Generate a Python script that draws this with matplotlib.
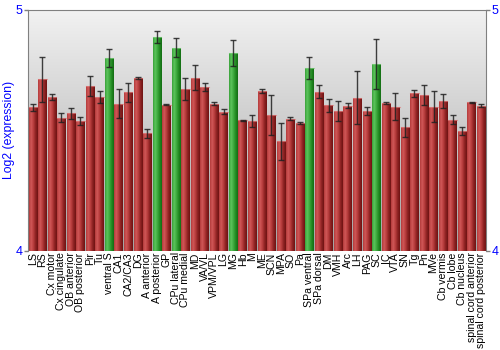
import numpy as np
import matplotlib
matplotlib.use("Agg")
import matplotlib.pyplot as plt
from matplotlib.colors import LinearSegmentedColormap

regions = ["LS", "RS", "Cx motor", "Cx cingulate", "OB anterior", "OB posterior",
           "Pir", "Tu", "ventral S", "CA1", "CA2/CA3", "DG", "A anterior",
           "A posterior", "GP", "CPu lateral", "CPu medial", "MD", "VA/VL",
           "VPM/VPL", "LG", "MG", "Hb", "M", "ME", "SCN", "MPA", "SO", "Pa",
           "SPa ventral", "SPa dorsal", "DM", "VMH", "Arc", "LH", "PAG", "SC",
           "IC", "VTA", "SN", "Tg", "Pn", "MVe", "Cb vermis", "Cb lobe",
           "Cb nucleus", "spinal cord anterior", "spinal cord posterior"]
expr = [4.595, 4.712, 4.639, 4.553, 4.570, 4.539, 4.683, 4.638, 4.800, 4.611,
        4.658, 4.718, 4.488, 4.887, 4.607, 4.842, 4.672, 4.719, 4.679, 4.611,
        4.577, 4.822, 4.541, 4.539, 4.663, 4.564, 4.454, 4.548, 4.531, 4.759,
        4.660, 4.604, 4.580, 4.602, 4.635, 4.581, 4.775, 4.614, 4.598, 4.512,
        4.653, 4.647, 4.598, 4.621, 4.545, 4.498, 4.616, 4.603]
err = [0.014, 0.093, 0.012, 0.017, 0.024, 0.017, 0.042, 0.025, 0.037, 0.060,
       0.040, 0.004, 0.019, 0.024, 0.002, 0.039, 0.047, 0.053, 0.017, 0.006,
       0.011, 0.054, 0.003, 0.023, 0.008, 0.083, 0.075, 0.007, 0.003, 0.044,
       0.027, 0.028, 0.041, 0.010, 0.110, 0.017, 0.103, 0.003, 0.055, 0.041,
       0.015, 0.041, 0.064, 0.028, 0.019, 0.017, 0.002, 0.007]
highlight = ["ventral S", "A posterior", "CPu lateral", "MG", "SPa ventral", "SC"]

blue = "#0000ff"
plt.rcParams['font.family'] = ['Liberation Sans', 'DejaVu Sans']

fig = plt.figure(figsize=(5, 3.5), dpi=100)
ax = fig.add_axes([0.056, 0.283, 0.916, 0.689])

x = np.arange(len(regions))
ax.set_xlim(-0.5, len(regions) - 0.5)
ax.set_ylim(4, 5)

# grey background fading downwards
bg = LinearSegmentedColormap.from_list("bg", ["#f2f2f2", "#a4a4a4"])
ax.imshow(np.linspace(0, 1, 256).reshape(-1, 1), cmap=bg, aspect="auto",
          extent=[-0.5, len(regions) - 0.5, 4, 5], origin="upper", zorder=0)

red_cm = LinearSegmentedColormap.from_list(
    "r", ["#b43a3a", "#d05858", "#b83c3c", "#8c2222", "#6e1212"])
green_cm = LinearSegmentedColormap.from_list(
    "g", ["#3aa03a", "#5cc45c", "#3eaa3e", "#228a22", "#136c13"])
grad = np.linspace(0, 1, 64).reshape(1, -1)

bars = ax.bar(x, np.array(expr) - 4, bottom=4, width=0.88,
              color="none", edgecolor="none", zorder=2)
for name, b in zip(regions, bars):
    cm = green_cm if name in highlight else red_cm
    bx, by = b.get_x(), b.get_y()
    im = ax.imshow(grad, cmap=cm, aspect="auto", zorder=2,
                   extent=[bx, bx + b.get_width(), by, by + b.get_height()])
    im.set_clip_path(b)
    ax.plot([bx, bx + b.get_width()], [by + b.get_height()] * 2,
            color="#e08080" if cm is red_cm else "#80d080", lw=0.8, alpha=0.7,
            zorder=3)

ax.errorbar(x, expr, yerr=err, fmt="none", ecolor="#202020", elinewidth=1,
            capsize=2.2, capthick=1, alpha=0.85, zorder=4)

ax.set_xticks(x)
ax.set_xticklabels(regions, rotation=90, fontsize=7.6)
ax.tick_params(axis="x", length=0, pad=1)

ax.set_yticks([4, 5])
ax.tick_params(axis="y", colors="#808080", labelcolor=blue, labelsize=9,
               length=3, width=1, pad=1, right=True, labelright=True)
ax.set_ylabel("Log2 (expression)", color=blue, fontsize=8.8, labelpad=0)

for s in ["left", "right", "top"]:
    ax.spines[s].set_color("#808080")
ax.spines["bottom"].set_visible(False)

fig.savefig("out.png", dpi=100)
